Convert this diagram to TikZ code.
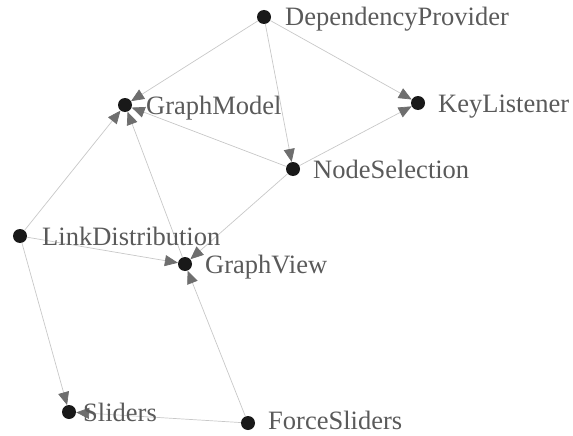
\documentclass[tikz,border=0pt]{standalone}
\usepackage{fontspec}
\setmainfont{Liberation Serif}
\usetikzlibrary{arrows.meta}
\definecolor{edgegray}{HTML}{C8C8C8}
\definecolor{tipgray}{HTML}{6E6E6E}
\definecolor{labelgray}{HTML}{5A5A5A}
\tikzset{
  dot/.style={circle, fill=black!90, inner sep=0pt, minimum size=14pt},
  lbl/.style={anchor=base west, inner sep=0pt, text=labelgray, font=\fontsize{26.5}{28}\selectfont},
  link/.style={draw=edgegray, line width=0.7pt,
    -{Triangle[length=13pt, width=11pt, color=tipgray]}}
}
\begin{document}
\begin{tikzpicture}[x=1pt, y=-1pt]
\useasboundingbox (0,0) rectangle (573,436);
% vertices
\node[dot] (dp) at (264,17) {};
\node[dot] (gm) at (125,105) {};
\node[dot] (kl) at (418,103) {};
\node[dot] (ns) at (293,169) {};
\node[dot] (ld) at (20,236) {};
\node[dot] (gv) at (185,264) {};
\node[dot] (sl) at (69,412) {};
\node[dot] (fs) at (248,423) {};
% dependencies
\draw[link] (dp) -- (gm);
\draw[link] (dp) -- (ns);
\draw[link] (dp) -- (kl);
\draw[link] (ns) -- (kl);
\draw[link] (ns) -- (gm);
\draw[link] (ns) -- (gv);
\draw[link] (ld) -- (gm);
\draw[link] (ld) -- (gv);
\draw[link] (ld) -- (sl);
\draw[link] (gv) -- (gm);
\draw[link] (fs) -- (gv);
\draw[link] (fs) -- (sl);
% labels (baselines sit a little below the dot centres)
\node[lbl] (ldp) at (285,26) {DependencyProvider};
\node[lbl] (lgm) at (146,114) {GraphModel};
\node[lbl] (lkl) at (438,112) {KeyListener};
\node[lbl] (lns) at (313,178) {NodeSelection};
\node[lbl] (lld) at (42,245) {LinkDistribution};
\node[lbl] (lgv) at (205,273) {GraphView};
\node[lbl] (lsl) at (83,421) {Sliders};
\node[lbl] (lfs) at (268,429) {ForceSliders};
\end{tikzpicture}
\end{document}
